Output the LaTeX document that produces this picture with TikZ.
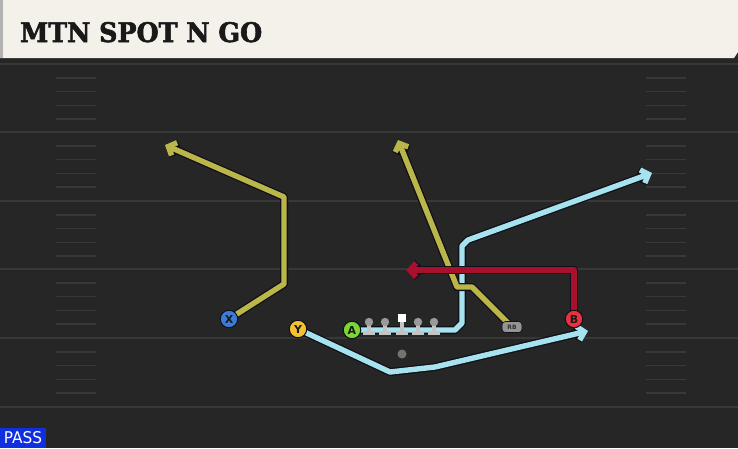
\documentclass[tikz,border=0pt]{standalone}
\usepackage{fontspec}
\setmainfont{DejaVu Sans}
\newfontfamily\titlefont{DejaVu Serif Condensed}[BoldFeatures={FakeBold=2}]
\newfontfamily\passfont{DejaVu Sans Condensed}
\usetikzlibrary{arrows.meta}
\definecolor{field}{HTML}{262626}
\definecolor{fline}{HTML}{383838}
\definecolor{cream}{HTML}{F4F1EA}
\definecolor{olive}{HTML}{BAB64A}
\definecolor{lblue}{HTML}{A6E3EE}
\definecolor{rred}{HTML}{A8102E}
\definecolor{outl}{HTML}{101018}
\definecolor{pblue}{HTML}{3C7BDA}
\definecolor{pyellow}{HTML}{F2C230}
\definecolor{pgreen}{HTML}{7CD632}
\definecolor{pred}{HTML}{E8333F}
\definecolor{passblue}{HTML}{1030E0}
\definecolor{olgray}{HTML}{C4C4C4}
\definecolor{olhead}{HTML}{9A9A9A}
\tikzset{
  yardline/.style={fline, line width=2.2pt},
  hashmark/.style={fline, line width=1.6pt},
  routeout/.style={outl, line width=8pt, line join=round, -{Straight Barb[length=6.5pt,width=14pt]}},
  routein/.style={line width=5.4pt, line join=round, -{Straight Barb[length=6.5pt,width=14pt]}},
  player/.style={circle, minimum size=17.5pt, inner sep=0pt, draw=outl, line width=1pt,
     font=\fontsize{11}{11}\selectfont\bfseries, text=black!90},
}
\begin{document}
\begin{tikzpicture}[x=1pt,y=-1pt]
\useasboundingbox (0,0) rectangle (738,448);
% field
\fill[field] (0,0) rectangle (738,448);
\foreach \y in {64,132,201,269,338,407} \draw[yardline] (0,\y) -- (738,\y);
\foreach \b in {64,132,201,269,338} {
  \foreach \k in {1,2,3,4} {
    \draw[hashmark] (56,\b+13.8*\k) -- (96,\b+13.8*\k);
    \draw[hashmark] (646,\b+13.8*\k) -- (686,\b+13.8*\k);
  }
}
% title bar
\fill[black!85] (0,0) rectangle (738,63);
\fill[cream] (0,0) -- (738,0) -- (738,52) -- (734,58) -- (0,58) -- cycle;
\fill[black!30] (0,0) rectangle (3,58);
\node[anchor=base west, inner sep=0pt, text=black!90] (title) at (20,42)
  {\resizebox{242pt}{20pt}{\titlefont\bfseries MTN SPOT N GO}};
% positions
\coordinate (pX) at (229,319);
\coordinate (pY) at (298,329);
\coordinate (pA) at (352,330);
\coordinate (pB) at (574,319);
\coordinate (pRB) at (512,327);
% route waypoints
\coordinate (x1) at (284,284); \coordinate (x2) at (284,197); \coordinate (xe) at (165,145);
\coordinate (r1) at (472,287); \coordinate (r2) at (457,287); \coordinate (re) at (398,140);
\coordinate (a1) at (455,330); \coordinate (a2) at (462,323); \coordinate (a3) at (462,246);
\coordinate (a4) at (468,240); \coordinate (ae) at (652,173);
\coordinate (b1) at (574,270); \coordinate (be) at (406,270);
\coordinate (y1) at (390,372); \coordinate (y2) at (435,367); \coordinate (ye) at (588,331);
% blue routes
\draw[routeout] (pA) -- (a1) -- (a2) -- (a3) -- (a4) -- (ae);
\draw[routein, lblue] (pA) -- (a1) -- (a2) -- (a3) -- (a4) -- (ae);
\draw[routeout] (pY) -- (y1) -- (y2) -- (ye);
\draw[routein, lblue] (pY) -- (y1) -- (y2) -- (ye);
% olive routes
\draw[routeout] (pX) -- (x1) -- (x2) -- (xe);
\draw[routein, olive] (pX) -- (x1) -- (x2) -- (xe);
\draw[routeout] (pRB) -- (r1) -- (r2) -- (re);
\draw[routein, olive] (pRB) -- (r1) -- (r2) -- (re);
% red route
\draw[routeout] (pB) -- (b1) -- (be);
\draw[routein, rred] (pB) -- (b1) -- (be);
% offensive line
\foreach \x in {369,385,418,434} {
  \fill[olgray] (\x-1.6,322) rectangle (\x+1.6,332);
  \fill[olgray] (\x-6,331) rectangle (\x+6,335);
  \fill[olhead] (\x,322) circle (4.2);
}
\fill[olgray] (400.4,318) rectangle (403.6,332);
\fill[olgray] (396,331) rectangle (408,335);
\fill[white] (397.5,314) rectangle (405.5,322);
% ball / QB spot
\fill[black!55] (402,354) circle (4.5);
% players
\node[player, fill=pblue] (X) at (pX) {X};
\node[player, fill=pyellow] (Y) at (pY) {Y};
\node[player, fill=pgreen] (A) at (pA) {A};
\node[player, fill=pred] (B) at (pB) {B};
\node[rounded corners=3.5pt, fill=black!42, draw=outl, line width=0.6pt, minimum width=20pt,
      minimum height=11pt, inner sep=0pt, font=\fontsize{6}{6}\selectfont\bfseries, text=black!80] (RB) at (pRB) {RB};
% PASS tag
\fill[passblue] (0,428) rectangle (46,448);
\node[inner sep=0pt, text=white] (pass) at (23,438)
  {\resizebox{38pt}{12pt}{\passfont PASS}};
\end{tikzpicture}
\end{document}
